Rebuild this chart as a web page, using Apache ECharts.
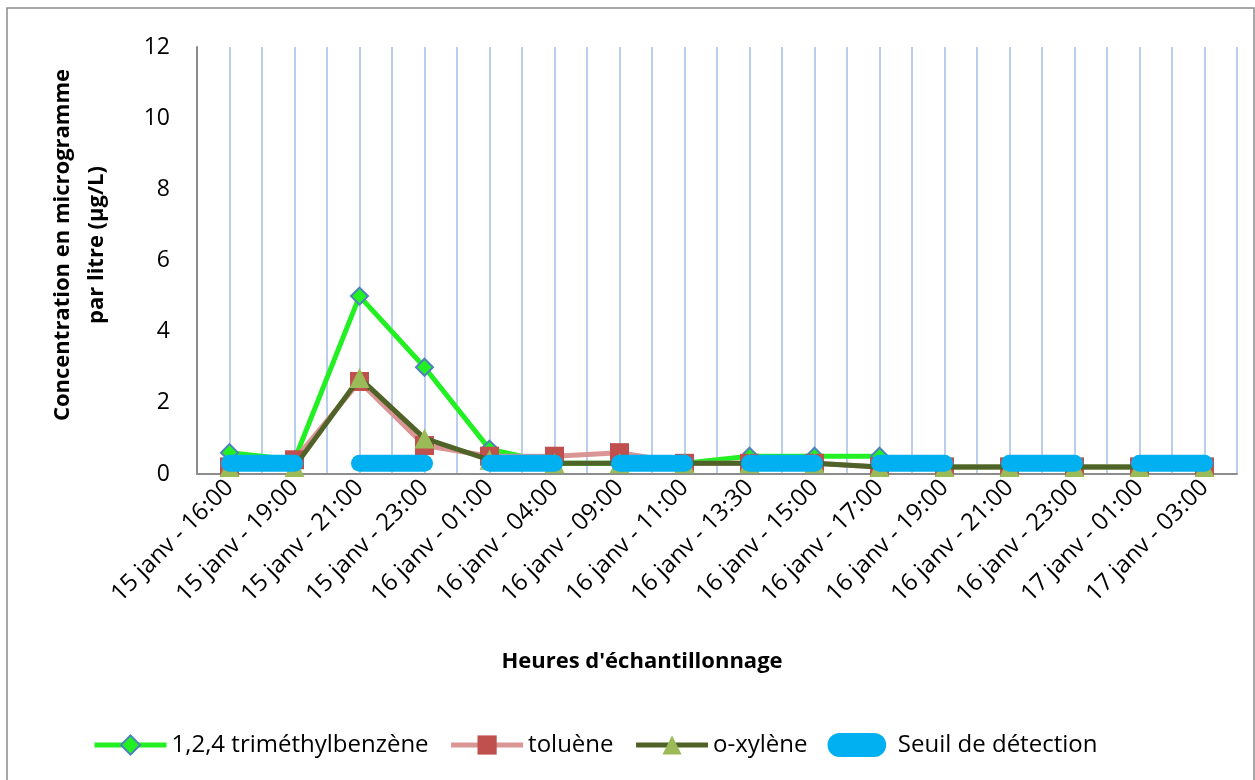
<!DOCTYPE html>
<html>
<head>
<meta charset="utf-8">
<script src="https://cdn.jsdelivr.net/npm/echarts@6/dist/echarts.min.js"></script>
<style>
html,body{margin:0;padding:0;background:#fff;}
#chart{width:1255px;height:780px;}
</style>
</head>
<body>
<div id="chart"></div>
<script>
const categories = ['15 janv - 16:00','15 janv - 19:00','15 janv - 21:00','15 janv - 23:00','16 janv - 01:00','16 janv - 04:00','16 janv - 09:00','16 janv - 11:00','16 janv - 13:30','16 janv - 15:00','16 janv - 17:00','16 janv - 19:00','16 janv - 21:00','16 janv - 23:00','17 janv - 01:00','17 janv - 03:00'];
const trimethylbenzene = [0.6, 0.4, 5.0, 3.0, 0.7, 0.3, 0.3, 0.3, 0.5, 0.5, 0.5, 0.2, 0.2, 0.2, 0.2, 0.2];
const toluene = [0.2, 0.4, 2.6, 0.8, 0.5, 0.5, 0.6, 0.3, 0.3, 0.3, 0.2, 0.2, 0.2, 0.2, 0.2, 0.2];
const oxylene = [0.2, 0.2, 2.7, 1.0, 0.4, 0.3, 0.3, 0.3, 0.3, 0.3, 0.2, 0.2, 0.2, 0.2, 0.2, 0.2];
const seuil = [0.3, 0.3, 0.3, 0.3, 0.3, 0.3, 0.3, 0.3, 0.3, 0.3, 0.3, 0.3, 0.3, 0.3, 0.3, 0.3];
const yTicks = [0, 2, 4, 6, 8, 10, 12];

const FONT = 'Open Sans';
const chart = echarts.init(document.getElementById('chart'));

const seuilSeries = [];
for (let k = 0; k < seuil.length / 2; k++) {
  seuilSeries.push({
    name: 'Seuil de détection',
    type: 'line',
    xAxisIndex: 0,
    data: seuil.map((v, i) => Math.floor(i / 2) === k ? v : null),
    symbol: 'none',
    lineStyle: { color: '#00B0F0', width: 17, cap: 'round' },
    itemStyle: { color: '#00B0F0' },
    silent: true,
    z: 10
  });
}

const option = {
  animation: false,
  backgroundColor: '#fff',
  textStyle: { fontFamily: FONT },
  grid: { left: 197, right: 18, top: 47, bottom: 306 },
  xAxis: [{
    type: 'category',
    data: categories,
    boundaryGap: true,
    axisLine: { lineStyle: { color: '#8c8c8c', width: 2 } },
    axisTick: { show: false },
    axisLabel: { rotate: 45, fontSize: 24, color: '#000', margin: 10, fontFamily: FONT, interval: 0 },
    splitLine: { show: false }
  }, {
    type: 'value',
    min: 0, max: 32, interval: 1,
    position: 'bottom',
    axisLine: { show: false },
    axisTick: { show: false },
    axisLabel: { show: false },
    splitLine: { show: true, lineStyle: { color: '#A3BEE8', width: 1.5 } }
  }],
  yAxis: {
    type: 'value',
    min: yTicks[0], max: yTicks[yTicks.length - 1], interval: 2,
    axisLine: { show: true, lineStyle: { color: '#8c8c8c', width: 2 } },
    axisTick: { show: false },
    axisLabel: { fontSize: 23, color: '#000', margin: 27, fontFamily: FONT },
    splitLine: { show: false }
  },
  legend: {
    left: 92, top: 733, padding: 0,
    itemWidth: 72, itemHeight: 24, itemGap: 20,
    textStyle: { fontSize: 24, color: '#000', fontFamily: FONT },
    data: [
      { name: '1,2,4 triméthylbenzène', lineStyle: { width: 5 } },
      { name: 'toluène', lineStyle: { width: 5 } },
      { name: 'o-xylène', lineStyle: { width: 5 } },
      { name: 'Seuil de détection', icon: 'path://M9,0 H35 A9,9 0 0 1 35,18 H9 A9,9 0 0 1 9,0 Z', itemStyle: { color: '#00B0F0' } }
    ]
  },
  graphic: [
    { type: 'rect', shape: { x: 7, y: 8, width: 1247, height: 800 }, style: { fill: 'none', stroke: '#8c8c8c', lineWidth: 1.5 }, silent: true, z: -1 },
    { type: 'text', x: 80, y: 245, rotation: Math.PI / 2, style: { text: 'Concentration en microgramme\npar litre (µg/L)', font: 'bold 22px "Open Sans"', fill: '#000', textAlign: 'center', textVerticalAlign: 'middle', lineHeight: 34 } },
    { type: 'text', x: 642, y: 662, style: { text: "Heures d'échantillonnage", font: 'bold 22px "Open Sans"', fill: '#000', textAlign: 'center', textVerticalAlign: 'middle' } }
  ],
  series: [
    {
      name: '1,2,4 triméthylbenzène', type: 'line', data: trimethylbenzene,
      symbol: 'diamond', symbolSize: 17,
      lineStyle: { color: '#22F022', width: 5 },
      itemStyle: { color: '#22F022', borderColor: '#4F81BD', borderWidth: 2 },
      z: 3
    },
    {
      name: 'toluène', type: 'line', data: toluene,
      symbol: 'rect', symbolSize: 19,
      lineStyle: { color: '#DA9694', width: 5 },
      itemStyle: { color: '#C0504D' },
      z: 4
    },
    {
      name: 'o-xylène', type: 'line', data: oxylene,
      symbol: 'triangle', symbolSize: 20,
      lineStyle: { color: '#4F6228', width: 5 },
      itemStyle: { color: '#9BBB59' },
      z: 5
    }
  ].concat(seuilSeries)
};
chart.setOption(option);
</script>
</body>
</html>
